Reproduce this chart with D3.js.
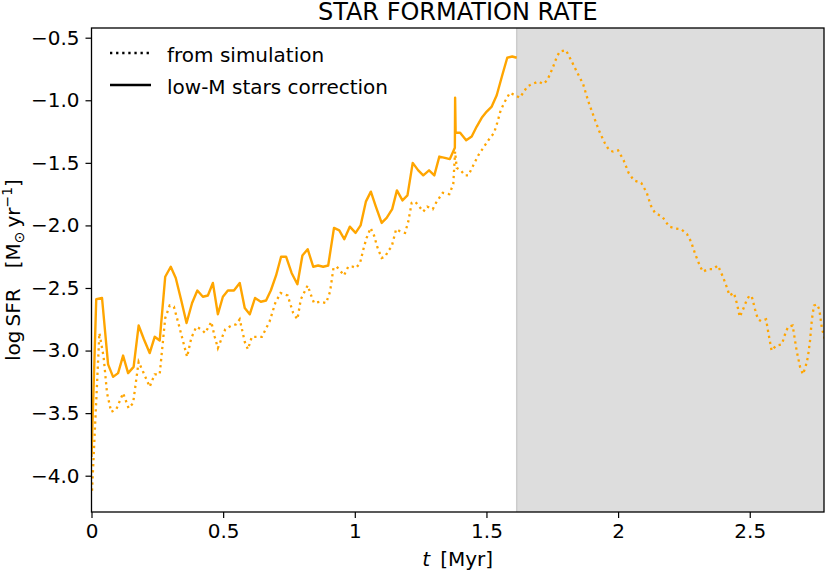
<!DOCTYPE html>
<html>
<head>
<meta charset="utf-8">
<script src="https://cdn.jsdelivr.net/npm/d3@7"></script>
<style>
  body { margin: 0; background: #fff; }
  text { font-family: "DejaVu Sans", sans-serif; fill: #000; }
</style>
</head>
<body>
<svg id="chart" width="830" height="573"></svg>
<script>
// t [Myr] and log SFR, "from simulation" (dotted)
const simT = [0.002, 0.030, 0.046, 0.059, 0.075, 0.094, 0.120, 0.141, 0.158, 0.179, 0.196, 0.221, 0.240, 0.259,
  0.280, 0.297, 0.313, 0.331, 0.363, 0.379, 0.398, 0.417, 0.432, 0.455, 0.468, 0.480, 0.493, 0.508, 0.531,
  0.550, 0.563, 0.582, 0.594, 0.609, 0.632, 0.647, 0.676, 0.698, 0.718, 0.745, 0.766, 0.782, 0.795, 0.821,
  0.836, 0.845, 0.866, 0.891, 0.906, 0.919, 0.931, 0.944, 0.959, 0.975, 0.992, 1.005, 1.020, 1.035, 1.045,
  1.060, 1.073, 1.085, 1.102, 1.115, 1.128, 1.140, 1.157, 1.174, 1.191, 1.203, 1.216, 1.229, 1.245, 1.260,
  1.275, 1.296, 1.311, 1.334, 1.359, 1.374, 1.381, 1.387, 1.402, 1.419, 1.431, 1.450, 1.469, 1.488, 1.507,
  1.529, 1.541, 1.554, 1.570, 1.589, 1.627, 1.655, 1.674, 1.697, 1.716, 1.731, 1.750, 1.768, 1.779, 1.802,
  1.824, 1.845, 1.867, 1.887, 1.911, 1.929, 1.949, 1.966, 1.981, 2.000, 2.021, 2.040, 2.060, 2.088, 2.109,
  2.124, 2.140, 2.168, 2.194, 2.220, 2.239, 2.262, 2.277, 2.293, 2.310, 2.322, 2.341, 2.360, 2.379, 2.398,
  2.414, 2.423, 2.440, 2.452, 2.462, 2.471, 2.488, 2.499, 2.508, 2.520, 2.531, 2.543, 2.562, 2.570, 2.583,
  2.600, 2.622, 2.637, 2.646, 2.663, 2.678, 2.691, 2.702, 2.712, 2.721, 2.729, 2.736, 2.744, 2.755, 2.764,
  2.774, 2.790];
const simSFR = [-4.12, -2.86, -3.05, -3.34, -3.49, -3.47, -3.34, -3.46, -3.42, -3.09, -3.17, -3.29, -3.19, -3.19,
  -2.74, -2.64, -2.65, -2.79, -3.05, -2.90, -2.81, -2.83, -2.86, -2.77, -2.89, -2.98, -2.91, -2.83, -2.80,
  -2.79, -2.75, -2.93, -2.99, -2.89, -2.89, -2.89, -2.77, -2.62, -2.54, -2.56, -2.70, -2.75, -2.59, -2.48,
  -2.57, -2.62, -2.61, -2.62, -2.53, -2.34, -2.33, -2.36, -2.40, -2.33, -2.33, -2.34, -2.30, -2.17, -2.10,
  -2.02, -2.08, -2.17, -2.26, -2.25, -2.20, -2.17, -2.03, -2.05, -2.06, -1.97, -1.82, -1.81, -1.85, -1.89,
  -1.85, -1.87, -1.81, -1.74, -1.75, -1.67, -1.41, -1.54, -1.56, -1.60, -1.60, -1.52, -1.44, -1.38, -1.32,
  -1.26, -1.18, -1.08, -1.01, -0.94, -0.98, -0.89, -0.87, -0.85, -0.87, -0.84, -0.75, -0.65, -0.61, -0.60,
  -0.69, -0.78, -0.87, -1.01, -1.15, -1.25, -1.34, -1.40, -1.41, -1.40, -1.48, -1.58, -1.64, -1.66, -1.74,
  -1.84, -1.90, -1.93, -2.01, -2.025, -2.03, -2.07, -2.13, -2.23, -2.32, -2.37, -2.35, -2.35, -2.32, -2.41,
  -2.50, -2.56, -2.54, -2.63, -2.73, -2.69, -2.60, -2.56, -2.57, -2.67, -2.75, -2.765, -2.75, -2.85, -3.00,
  -2.96, -2.95, -2.85, -2.81, -2.80, -3.00, -3.13, -3.19, -3.13, -3.05, -2.92, -2.75, -2.64, -2.63, -2.67,
  -2.82, -2.95];

// "low-M stars correction" (solid)
const corrT = [0.000, 0.018, 0.040, 0.063, 0.082, 0.101, 0.120, 0.139, 0.160, 0.179, 0.199, 0.221, 0.240, 0.259,
  0.280, 0.301, 0.320, 0.341, 0.361, 0.382, 0.402, 0.423, 0.442, 0.461, 0.480, 0.499, 0.518, 0.541, 0.563,
  0.582, 0.601, 0.621, 0.643, 0.663, 0.681, 0.701, 0.720, 0.739, 0.760, 0.782, 0.801, 0.821, 0.842, 0.861,
  0.880, 0.899, 0.921, 0.941, 0.960, 0.981, 1.003, 1.022, 1.042, 1.061, 1.080, 1.102, 1.121, 1.142, 1.160,
  1.181, 1.200, 1.220, 1.241, 1.260, 1.282, 1.302, 1.321, 1.342, 1.361, 1.380, 1.381, 1.383, 1.400, 1.423,
  1.444, 1.463, 1.482, 1.501, 1.520, 1.539, 1.560, 1.579, 1.598, 1.615];
const corrSFR = [-3.85, -2.59, -2.58, -3.11, -3.21, -3.18, -3.04, -3.18, -3.13, -2.80, -2.91, -3.02, -2.89, -2.92,
  -2.41, -2.33, -2.42, -2.60, -2.78, -2.62, -2.52, -2.57, -2.56, -2.46, -2.71, -2.57, -2.52, -2.52, -2.46,
  -2.66, -2.71, -2.58, -2.61, -2.60, -2.52, -2.40, -2.25, -2.25, -2.38, -2.47, -2.24, -2.19, -2.33, -2.32,
  -2.33, -2.32, -2.02, -2.04, -2.11, -2.01, -2.06, -2.00, -1.81, -1.73, -1.85, -1.98, -1.94, -1.87, -1.72,
  -1.80, -1.76, -1.50, -1.56, -1.60, -1.56, -1.60, -1.45, -1.46, -1.47, -1.38, -0.98, -1.26, -1.26, -1.32,
  -1.29, -1.21, -1.14, -1.09, -1.05, -0.96, -0.80, -0.66, -0.65, -0.66];

const xTicks = [0, 0.5, 1, 1.5, 2, 2.5];
const xTickLabels = ["0", "0.5", "1", "1.5", "2", "2.5"];
const yTicks = [-4.0, -3.5, -3.0, -2.5, -2.0, -1.5, -1.0, -0.5];
const shadeStart = 1.615;

const plotLeft = 91.5, plotRight = 824, plotTop = 28, plotBottom = 512;
const svg = d3.select("#chart");

const x = d3.scaleLinear().domain([0, 2.782]).range([plotLeft, plotRight]);
const y = d3.scaleLinear().domain([-4.29, -0.4225]).range([plotBottom, plotTop]);

svg.append("defs").append("clipPath").attr("id", "plotClip")
  .append("rect").attr("x", plotLeft).attr("y", plotTop)
  .attr("width", plotRight - plotLeft).attr("height", plotBottom - plotTop);

// shaded region
svg.append("rect")
  .attr("x", x(shadeStart)).attr("y", plotTop)
  .attr("width", plotRight - x(shadeStart)).attr("height", plotBottom - plotTop)
  .attr("fill", "#dddddd");
svg.append("line")
  .attr("x1", x(shadeStart)).attr("x2", x(shadeStart))
  .attr("y1", plotTop).attr("y2", plotBottom)
  .attr("stroke", "#cccccc").attr("stroke-width", 1.5);

const line = d3.line().x((d) => x(d[0])).y((d) => y(d[1]));
const plot = svg.append("g").attr("clip-path", "url(#plotClip)");

plot.append("path")
  .datum(simT.map((t, i) => [t, simSFR[i]]))
  .attr("d", line)
  .attr("fill", "none")
  .attr("stroke", "#ffa500")
  .attr("stroke-width", 2.3)
  .attr("stroke-dasharray", "2.3,3.8");

plot.append("path")
  .datum(corrT.map((t, i) => [t, corrSFR[i]]))
  .attr("d", line)
  .attr("fill", "none")
  .attr("stroke", "#ffa500")
  .attr("stroke-width", 2.4)
  .attr("stroke-linejoin", "round");

// axes
const xAxis = svg.append("g")
  .attr("transform", `translate(0,${plotBottom})`)
  .call(d3.axisBottom(x).tickValues(xTicks).tickFormat((d, i) => xTickLabels[i]).tickSize(6).tickPadding(6));
const yAxis = svg.append("g")
  .attr("transform", `translate(${plotLeft},0)`)
  .call(d3.axisLeft(y).tickValues(yTicks).tickFormat((d) => d3.format(".1f")(d).replace("-", "\u2212")).tickSize(6).tickPadding(6));
[xAxis, yAxis].forEach((a) => {
  a.select(".domain").remove();
  a.selectAll("line").attr("stroke", "#000").attr("stroke-width", 1.2);
  a.selectAll("text").attr("font-size", 20).attr("font-family", "DejaVu Sans, sans-serif").attr("fill", "#000");
});

svg.append("rect")
  .attr("x", plotLeft).attr("y", plotTop)
  .attr("width", plotRight - plotLeft).attr("height", plotBottom - plotTop)
  .attr("fill", "none").attr("stroke", "#000").attr("stroke-width", 1.3);

// title
svg.append("text")
  .attr("x", (plotLeft + plotRight) / 2).attr("y", 20)
  .attr("text-anchor", "middle").attr("font-size", 24)
  .text("STAR FORMATION RATE");

// x label
const xl = svg.append("text")
  .attr("x", (plotLeft + plotRight) / 2).attr("y", 566)
  .attr("text-anchor", "middle").attr("font-size", 20);
xl.append("tspan").attr("font-style", "italic").text("t");
xl.append("tspan").text("\u2002[Myr]");

// y label
const yl = svg.append("text")
  .attr("transform", `translate(20,${(plotTop + plotBottom) / 2}) rotate(-90)`)
  .attr("text-anchor", "middle").attr("font-size", 20);
yl.append("tspan").text("log\u2009SFR\u2003[M");
yl.append("tspan").attr("font-size", 14).attr("dy", 4).text("\u2299");
yl.append("tspan").attr("dy", -4).text("\u2009yr");
yl.append("tspan").attr("font-size", 14).attr("dy", -8).text("\u22121");
yl.append("tspan").attr("dy", 8).text("]");

// legend
const legend = [
  { label: "from simulation", dash: "2.3,3.8", y: 53 },
  { label: "low-M stars correction", dash: null, y: 85 },
];
legend.forEach((l) => {
  svg.append("line")
    .attr("x1", 110).attr("x2", 151).attr("y1", l.y).attr("y2", l.y)
    .attr("stroke", "#000").attr("stroke-width", 2.3)
    .attr("stroke-dasharray", l.dash);
  svg.append("text").attr("x", 167).attr("y", l.y + 8.5).attr("font-size", 20).text(l.label);
});
</script>
</body>
</html>
